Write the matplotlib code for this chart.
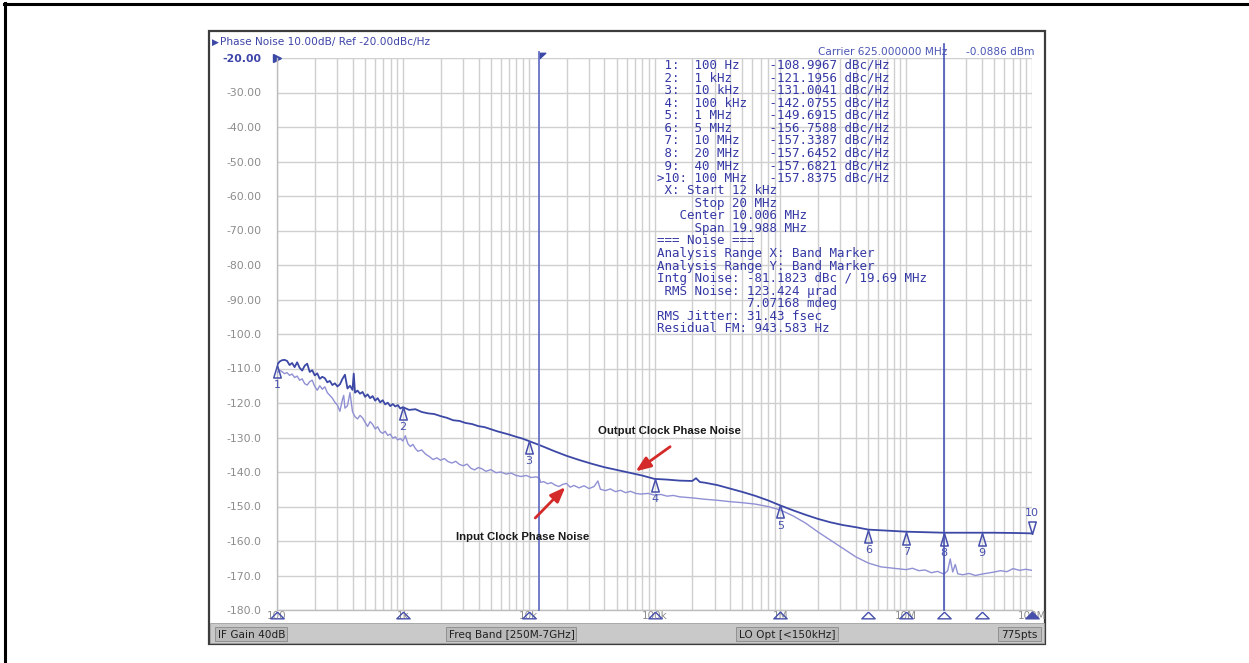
import numpy as np
import matplotlib
matplotlib.use("Agg")
import matplotlib.pyplot as plt
from matplotlib.path import Path
from matplotlib.patches import Rectangle
from matplotlib.lines import Line2D
import matplotlib.transforms as mtransforms

# ---------------- data ----------------
# frequency given as log10(Hz), level in dBc/Hz
out_logf = [2.00, 2.02, 2.04, 2.06, 2.08, 2.10, 2.12, 2.14, 2.16, 2.18,
            2.20, 2.22, 2.24, 2.26, 2.28, 2.30, 2.32, 2.34, 2.36, 2.38,
            2.40, 2.42, 2.44, 2.46, 2.48, 2.50, 2.52, 2.54, 2.56, 2.58,
            2.60, 2.61, 2.62, 2.64, 2.66, 2.68, 2.70, 2.72, 2.74, 2.76,
            2.78, 2.80, 2.82, 2.84, 2.86, 2.88, 2.90, 2.92, 2.94, 2.96,
            2.98, 3.00, 3.05, 3.10, 3.15, 3.20, 3.25, 3.30, 3.35, 3.40,
            3.45, 3.50, 3.55, 3.60, 3.65, 3.70, 3.75, 3.80, 3.85, 3.90,
            3.95, 4.00, 4.10, 4.20, 4.30, 4.40, 4.50, 4.60, 4.70, 4.80,
            4.90, 5.00, 5.10, 5.20, 5.30, 5.33, 5.36, 5.40, 5.50, 5.60,
            5.70, 5.80, 5.90, 6.00, 6.10, 6.20, 6.30, 6.40, 6.50, 6.60,
            6.70, 6.80, 6.90, 7.00, 7.20, 7.30, 7.50, 7.70, 7.90, 8.00]
out_db = [-109.0, -108.0, -107.6, -107.5, -107.8, -109.0, -108.4, -109.6, -108.2, -109.8,
          -110.6, -109.2, -108.6, -111.0, -110.5, -112.0, -111.4, -113.0, -112.4, -112.8,
          -114.0, -113.6, -114.8, -114.3, -115.2, -114.6, -113.0, -111.8, -115.8, -115.0,
          -116.2, -111.5, -117.0, -116.4, -117.3, -116.8, -118.2, -117.5, -118.6, -118.0,
          -119.3, -118.6, -119.8, -119.2, -120.4, -119.9, -120.9, -120.3, -121.0, -120.6,
          -121.6, -121.2, -122.0, -121.8, -122.6, -123.0, -123.2, -123.8, -124.3, -125.0,
          -125.2, -125.8, -126.1, -126.7, -127.0, -127.6, -128.2, -128.7, -129.2, -129.8,
          -130.3, -131.0, -132.4, -133.9, -135.3, -136.5, -137.6, -138.6, -139.4, -140.2,
          -141.0, -142.0, -142.2, -142.5, -142.6, -141.8, -142.9, -143.1, -143.8, -144.8,
          -145.8, -146.9, -148.2, -149.7, -151.1, -152.4, -153.6, -154.6, -155.4, -156.0,
          -156.7, -156.9, -157.1, -157.3, -157.5, -157.6, -157.6, -157.6, -157.7, -157.8]

in_logf = [2.00, 2.02, 2.04, 2.06, 2.08, 2.10, 2.12, 2.14, 2.16, 2.18,
           2.20, 2.22, 2.24, 2.26, 2.28, 2.30, 2.32, 2.34, 2.36, 2.38,
           2.40, 2.42, 2.44, 2.46, 2.48, 2.50, 2.52, 2.53, 2.54, 2.56,
           2.58, 2.60, 2.62, 2.64, 2.66, 2.68, 2.70, 2.72, 2.74, 2.76,
           2.78, 2.80, 2.82, 2.84, 2.86, 2.88, 2.90, 2.92, 2.94, 2.96,
           2.98, 3.00, 3.02, 3.04, 3.06, 3.08, 3.10, 3.12, 3.15, 3.18,
           3.21, 3.24, 3.27, 3.30, 3.33, 3.36, 3.39, 3.42, 3.45, 3.48,
           3.51, 3.54, 3.57, 3.60, 3.63, 3.66, 3.70, 3.74, 3.78, 3.82,
           3.86, 3.90, 3.94, 3.98, 4.02, 4.06, 4.085, 4.095, 4.12, 4.15,
           4.18, 4.21, 4.24, 4.27, 4.30, 4.33, 4.36, 4.40, 4.44, 4.48,
           4.52, 4.55, 4.57, 4.61, 4.65, 4.69, 4.73, 4.77, 4.81, 4.85,
           4.89, 4.95, 5.00, 5.05, 5.10, 5.15, 5.20, 5.30, 5.40, 5.50,
           5.60, 5.70, 5.80, 5.90, 6.00, 6.10, 6.20, 6.30, 6.40, 6.50,
           6.60, 6.70, 6.80, 6.90, 7.00, 7.05, 7.10, 7.15, 7.20, 7.25,
           7.30, 7.33, 7.35, 7.37, 7.39, 7.41, 7.45, 7.50, 7.55, 7.60,
           7.65, 7.70, 7.75, 7.80, 7.85, 7.90, 7.95, 8.00]
in_db = [-111.3, -110.5, -110.9, -111.5, -111.2, -112.0, -111.6, -112.6, -112.2, -113.4,
         -113.0, -114.4, -114.8, -113.8, -113.4, -115.2, -116.3, -115.0, -116.0, -115.3,
         -117.0, -117.8, -118.6, -119.8, -120.6, -122.4, -119.0, -117.8, -121.5, -120.8,
         -117.0, -122.5, -124.0, -124.6, -123.6, -124.3, -125.6, -126.8, -125.4, -126.2,
         -127.5, -126.9, -128.3, -128.8, -128.2, -129.4, -129.0, -130.2, -129.8, -130.7,
         -130.3, -131.0, -129.5, -131.8, -132.6, -132.0, -133.2, -134.0, -133.6, -134.8,
         -135.5, -136.4, -135.9, -136.6, -136.1, -137.0, -137.4, -136.9, -137.8, -138.2,
         -137.7, -138.9, -139.4, -138.7, -139.1, -139.8, -139.3, -140.2, -140.0, -140.6,
         -140.3, -141.0, -141.3, -141.0, -141.6, -141.4, -141.8, -143.0, -142.8, -143.4,
         -143.1, -143.8, -144.2, -143.6, -143.3, -144.4, -143.9, -144.6, -144.0, -144.8,
         -144.2, -142.6, -145.0, -145.4, -144.9, -145.7, -145.3, -146.0, -145.6, -146.2,
         -146.4, -146.2, -146.7, -146.5, -147.0, -146.8, -147.2, -147.5, -147.9, -148.2,
         -148.6, -148.9, -149.3, -150.0, -151.0, -152.7, -154.8, -157.4, -159.8, -162.2,
         -164.6, -166.4, -167.5, -167.9, -168.3, -167.9, -168.6, -168.4, -169.2, -168.8,
         -169.6, -168.6, -165.2, -169.0, -166.8, -169.5, -169.8, -169.4, -170.0, -169.6,
         -169.3, -169.0, -168.6, -168.9, -168.0, -168.5, -168.2, -168.5]

marker_freq = [1e2, 1e3, 1e4, 1e5, 1e6, 5e6, 1e7, 2e7, 4e7, 1e8]
marker_names = ["100 Hz", "1 kHz", "10 kHz", "100 kHz", "1 MHz", "5 MHz", "10 MHz",
                "20 MHz", "40 MHz", "100 MHz"]
marker_val = [-108.9967, -121.1956, -131.0041, -142.0755, -149.6915, -156.7588,
              -157.3387, -157.6452, -157.6821, -157.8375]

band_start = 12e3
band_stop = 20e6

xtick_vals = [1e2, 1e3, 1e4, 1e5, 1e6, 1e7, 1e8]
xtick_labels = ["100", "1k", "10k", "100k", "1M", "10M", "100M"]
ytick_vals = [-20, -30, -40, -50, -60, -70, -80, -90, -100, -110, -120, -130, -140,
              -150, -160, -170, -180]
ytick_labels = ["-20.00", "-30.00", "-40.00", "-50.00", "-60.00", "-70.00", "-80.00",
                "-90.00", "-100.0", "-110.0", "-120.0", "-130.0", "-140.0", "-150.0",
                "-160.0", "-170.0", "-180.0"]

info_lines = [
    "=== Noise ===",
    "Analysis Range X: Band Marker",
    "Analysis Range Y: Band Marker",
    "Intg Noise: -81.1823 dBc / 19.69 MHz",
    " RMS Noise: 123.424 \u00b5rad",
    "            7.07168 mdeg",
    "RMS Jitter: 31.43 fsec",
    "Residual FM: 943.583 Hz",
]
band_lines = [
    " X: Start 12 kHz",
    "     Stop 20 MHz",
    "   Center 10.006 MHz",
    "     Span 19.988 MHz",
]

# ---------------- figure ----------------
W, H = 1249, 663
fig = plt.figure(figsize=(W / 100, H / 100), dpi=100)
fig.patch.set_facecolor("white")

def fx(px):
    return px / W

def fy(py):
    return 1 - py / H

# outer black page border (top + left)
fig.add_artist(Line2D([fx(4), fx(1249)], [fy(3.5), fy(3.5)], color="black", lw=2.2))
fig.add_artist(Line2D([fx(4.5), fx(4.5)], [fy(3), fy(663)], color="black", lw=2.2))

# instrument screenshot frame
fig.add_artist(Rectangle((fx(209), fy(644)), fx(1045) - fx(209), fy(31) - fy(644),
                         facecolor="white", edgecolor="#3c3c3c", lw=1.6, zorder=0))
# status bar
fig.add_artist(Rectangle((fx(210), fy(643)), fx(1044) - fx(210), fy(623) - fy(643),
                         facecolor="#c9c9c9", edgecolor="#a0a0a0", lw=0.6, zorder=1))
status = [("IF Gain 40dB", 215, 287), ("Freq Band [250M-7GHz]", 446, 576),
          ("LO Opt [<150kHz]", 736, 838), ("775pts", 998, 1041)]
for txt, x0, x1 in status:
    fig.add_artist(Rectangle((fx(x0), fy(641)), fx(x1) - fx(x0), fy(627) - fy(641),
                             facecolor="#b9b9b9", edgecolor="#8a8a8a", lw=0.6, zorder=2))
    fig.text(fx(x0 + 3), fy(634.5), txt, fontsize=7.6, color="#202020",
             ha="left", va="center", zorder=3, family="DejaVu Sans")

ax_l, ax_r, ax_t, ax_b = 277, 1032, 58, 610
ax = fig.add_axes([fx(ax_l), fy(ax_b), fx(ax_r) - fx(ax_l), fy(ax_t) - fy(ax_b)])
ax.set_xscale("log")
ax.set_xlim(1e2, 1e8)
ax.set_ylim(-180, -20)
ax.set_facecolor("white")

# grid
ax.set_xticks(xtick_vals)
ax.set_xticks([m * 10 ** d for d in range(2, 8) for m in range(2, 10)], minor=True)
ax.set_yticks(ytick_vals)
ax.grid(True, which="both", axis="x", color="#cfcfcf", lw=1.0)
ax.grid(True, which="major", axis="y", color="#cfcfcf", lw=1.0)
ax.tick_params(which="both", length=0)
ax.set_xticklabels(xtick_labels, fontsize=7.5, color="#8c8c8c")
ax.tick_params(axis="x", pad=1)
ax.set_yticklabels(ytick_labels, fontsize=7.8, color="#8c8c8c")
ax.tick_params(axis="y", pad=11)
ax.get_yticklabels()[0].set_color("#3d44a8")
ax.get_yticklabels()[0].set_fontweight("bold")
for s in ["top", "right"]:
    ax.spines[s].set_visible(False)
for s in ["left", "bottom"]:
    ax.spines[s].set_color("#bdbdbd")
    ax.spines[s].set_linewidth(1.0)

out_f = 10 ** np.array(out_logf)
in_f = 10 ** np.array(in_logf)
ax.plot(in_f, in_db, color="#9090d4", lw=1.0, zorder=3)
ax.plot(out_f, out_db, color="#3c48a6", lw=1.3, zorder=4)

# band markers
ax.axvline(band_start, ymin=0, ymax=1.011, color="#6872c4", lw=1.3, clip_on=False, zorder=5)
ax.axvline(band_stop, ymin=0, ymax=1.026, color="#4a56b8", lw=1.2, clip_on=False, zorder=5)
flag = Path([(0, 0), (0, 1), (1.2, 1), (0, -0.1), (0, 0)])
ax.plot([band_start], [1.0], transform=ax.get_xaxis_transform(), marker=flag,
        markersize=9, color="#3c48a6", clip_on=False, ls="none")

# trace markers
up_tri = Path([(0, 0), (-0.6, -2), (0.6, -2), (0, 0)])
dn_tri = Path([(0, 0), (-0.6, 2), (0.6, 2), (0, 0)])
mk_col = "#4650ac"
for i, (f, v) in enumerate(zip(marker_freq, marker_val)):
    lab = str(i + 1)
    if i == 9:
        ax.plot([f], [v], marker=dn_tri, markersize=18, mfc="none", mec=mk_col,
                mew=1.1, ls="none", clip_on=False, zorder=6)
        ax.annotate(lab, (f, v), xytext=(0, 15), textcoords="offset points",
                    ha="center", va="center", fontsize=8, color=mk_col, annotation_clip=False)
    else:
        ax.plot([f], [v], marker=up_tri, markersize=18, mfc="none", mec=mk_col,
                mew=1.1, ls="none", clip_on=False, zorder=6)
        ax.annotate(lab, (f, v), xytext=(0, -14.5), textcoords="offset points",
                    ha="center", va="center", fontsize=8, color=mk_col, annotation_clip=False)

# bottom marker triangles
flat_tri = Path([(0, -0.25), (-1, -1.25), (1, -1.25), (0, -0.25)])
for i, f in enumerate(marker_freq):
    filled = (i == 9)
    ax.plot([f], [0], transform=ax.get_xaxis_transform(), marker=flat_tri, markersize=12,
            mfc=mk_col if filled else "none", mec=mk_col, mew=1.0, ls="none",
            clip_on=False, zorder=7)

# ref triangle next to -20.00
ax.plot([0], [-20], transform=mtransforms.blended_transform_factory(ax.transAxes, ax.transData),
        marker=">", markersize=6, color="#3c48a6", ls="none", clip_on=False)

# header texts
fig.text(fx(212), fy(42), "\u25b6", fontsize=6.5, color="#3c48a6", ha="left", va="center")
fig.text(fx(220), fy(42), "Phase Noise 10.00dB/ Ref -20.00dBc/Hz", fontsize=7.6,
         color="#3d44a8", ha="left", va="center")
fig.text(fx(818), fy(52), "Carrier 625.000000 MHz", fontsize=7.6, color="#4a56b4",
         ha="left", va="center")
fig.text(fx(1034), fy(52), "-0.0886 dBm", fontsize=7.6, color="#4a56b4",
         ha="right", va="center")

# marker table
tab_col = "#3438a4"
mono = dict(family="DejaVu Sans Mono", fontsize=9.0, color=tab_col, ha="left", va="center")
y0 = 65.0
dy = 12.57
rows = []
for i, (nm, v) in enumerate(zip(marker_names, marker_val)):
    pre = (">" if i == 9 else " ") + f"{i + 1}:"
    rows.append(f"{pre:<5}{nm:<10}{v:.4f} dBc/Hz")
rows += band_lines + info_lines
for k, r in enumerate(rows):
    fig.text(fx(657), fy(y0 + k * dy), r, **mono)

# annotations
ax.annotate("", xy=(10 ** 4.832, -140.3), xytext=(10 ** 5.142, -132.2),
            arrowprops=dict(arrowstyle="-|>,head_length=0.9,head_width=0.35",
                            color="#d42a2a", lw=2.0), zorder=8)
ax.annotate("", xy=(10 ** 4.307, -143.8), xytext=(10 ** 4.037, -153.9),
            arrowprops=dict(arrowstyle="-|>,head_length=0.9,head_width=0.35",
                            color="#d42a2a", lw=2.0), zorder=8)
ax.text(10 ** 4.554, -128.1, "Output Clock Phase Noise", fontsize=8.2, fontweight="bold",
        family="Liberation Sans", color="#1a1a1a", ha="left", va="center", zorder=9)
ax.text(10 ** 3.424, -158.8, "Input Clock Phase Noise", fontsize=8.2, fontweight="bold",
        family="Liberation Sans", color="#1a1a1a", ha="left", va="center", zorder=9)

fig.savefig("out.png", dpi=100)
